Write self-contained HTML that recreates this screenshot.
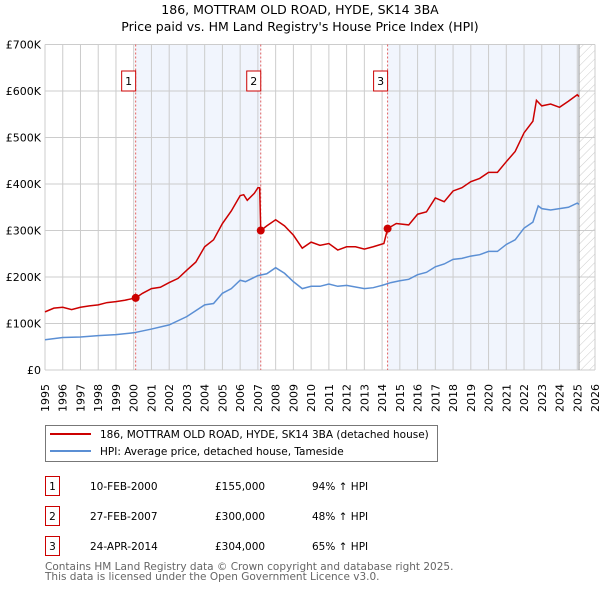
<!DOCTYPE html>
<html><head><meta charset="utf-8"><style>
body{margin:0;background:#fff;font-family:"Liberation Sans","DejaVu Sans",sans-serif;}
svg text{font-family:"DejaVu Sans","Liberation Sans",sans-serif;}
</style></head><body>
<svg id="c" width="600" height="590" xmlns="http://www.w3.org/2000/svg">
<defs><pattern id="h" patternUnits="userSpaceOnUse" width="6" height="6" patternTransform="rotate(45)"><line x1="0" y1="0" x2="0" y2="6" stroke="#ccc" stroke-width="1"/></pattern></defs>
<text x="300" y="14" text-anchor="middle" font-size="12.5">186, MOTTRAM OLD ROAD, HYDE, SK14 3BA</text>
<text x="300" y="31" text-anchor="middle" font-size="12.5">Price paid vs. HM Land Registry's House Price Index (HPI)</text>
<g id="plot"></g>
<g>
<rect x="45.5" y="425.5" width="392" height="36" fill="#fff" stroke="#777"/>
<line x1="50" y1="434" x2="91" y2="434" stroke="#cc0000" stroke-width="2"/>
<text x="100" y="438" font-size="10.5">186, MOTTRAM OLD ROAD, HYDE, SK14 3BA (detached house)</text>
<line x1="50" y1="451" x2="91" y2="451" stroke="#5b8fd4" stroke-width="2"/>
<text x="100" y="455" font-size="10.5">HPI: Average price, detached house, Tameside</text>
</g>
<g id="tbl" font-size="10.5"></g>
<text x="45" y="570" font-size="10.5" fill="#666">Contains HM Land Registry data © Crown copyright and database right 2025.</text>
<text x="45" y="580" font-size="10.5" fill="#666">This data is licensed under the Open Government Licence v3.0.</text>
</svg>
<script>
const yTicks=[0,100,200,300,400,500,600,700];
const yTickLabels=["£0","£100K","£200K","£300K","£400K","£500K","£600K","£700K"];
const years=[1995,1996,1997,1998,1999,2000,2001,2002,2003,2004,2005,2006,2007,2008,2009,2010,2011,2012,2013,2014,2015,2016,2017,2018,2019,2020,2021,2022,2023,2024,2025,2026];
const redT=[1995,1995.5,1996,1996.5,1997,1997.5,1998,1998.5,1999,1999.5,2000.11,2000.5,2001,2001.5,2002,2002.5,2003,2003.5,2004,2004.5,2005,2005.5,2006,2006.2,2006.4,2006.8,2007,2007.1,2007.16,2007.5,2008,2008.5,2009,2009.5,2010,2010.5,2011,2011.5,2012,2012.5,2013,2013.5,2014.1,2014.31,2014.8,2015.5,2016,2016.5,2017,2017.5,2018,2018.5,2019,2019.5,2020,2020.5,2021,2021.5,2022,2022.5,2022.7,2023,2023.5,2024,2024.5,2025,2025.1];
const redV=[125,133,135,130,135,138,140,145,147,150,155,165,175,178,188,197,215,232,265,280,315,342,375,377,365,380,392,392,300,310,323,310,290,262,275,268,272,258,265,265,260,265,272,304,315,312,335,340,370,362,385,392,405,412,425,425,448,470,510,535,580,568,572,565,578,592,588];
const hpiT=[1995,1996,1997,1998,1999,2000,2001,2002,2003,2004,2004.5,2005,2005.5,2006,2006.3,2007,2007.5,2008,2008.5,2009,2009.5,2010,2010.5,2011,2011.5,2012,2013,2013.5,2014,2014.5,2015,2015.5,2016,2016.5,2017,2017.5,2018,2018.5,2019,2019.5,2020,2020.5,2021,2021.5,2022,2022.5,2022.8,2023,2023.5,2024,2024.5,2025,2025.1];
const hpiV=[65,70,71,74,76,80,88,97,115,140,143,165,175,193,190,203,207,220,208,190,175,180,180,185,180,182,175,177,182,188,192,195,205,210,222,228,238,240,245,248,255,255,270,280,305,318,353,347,344,347,350,359,356];
const saleT=[2000.11,2007.16,2014.31];
const saleV=[155,300,304];
const saleLabels=["1","2","3"];
const saleDates=["10-FEB-2000","27-FEB-2007","24-APR-2014"];
const salePrices=["£155,000","£300,000","£304,000"];
const saleHpi=["94% \u2191 HPI","48% \u2191 HPI","65% \u2191 HPI"];
const X0=45,X1=595,Y0=370,Y1=44.5;
const x=t=>X0+(t-1995)/31*(X1-X0);
const y=v=>Y0-v/700*(Y0-Y1);
const NS="http://www.w3.org/2000/svg";
const plot=document.getElementById('plot');
function mk(tag,at,par){const e=document.createElementNS(NS,tag);for(const k in at)e.setAttribute(k,at[k]);(par||plot).appendChild(e);return e;}
let e;
e=mk('rect',{x:x(saleT[0]),y:Y1,width:x(saleT[1])-x(saleT[0]),height:Y0-Y1,fill:'#eef3fc',opacity:0.8});


e=mk('rect',{x:x(saleT[2]),y:Y1,width:x(2025.1)-x(saleT[2]),height:Y0-Y1,fill:'#eef3fc',opacity:0.8});


e=mk('rect',{x:x(2025.1),y:Y1,width:X1-x(2025.1),height:Y0-Y1,fill:'url(#h)'});


years.forEach(t=>{e=mk('line',{x1:x(t),x2:x(t),y1:Y1,y2:Y0,stroke:'#ccc'});


e=mk('text',{transform:`translate(${x(t)+4},384) rotate(-90)`,'text-anchor':'end','font-size':11});e.textContent=t;

});
yTicks.forEach((v,i)=>{e=mk('line',{x1:X0,x2:X1,y1:y(v),y2:y(v),stroke:'#ccc'});


e=mk('text',{x:X0-4,y:y(v)+4,'text-anchor':'end','font-size':11});e.textContent=yTickLabels[i];

});
e=mk('line',{x1:x(2025.1),x2:x(2025.1),y1:Y1,y2:Y0,stroke:'#999'});


saleT.forEach((t,i)=>{e=mk('line',{x1:x(t),x2:x(t),y1:Y1,y2:Y0,stroke:'#e06060','stroke-dasharray':'2,2'});


e=mk('rect',{x:x(t)-14,y:71,width:14,height:20,fill:'#fff',stroke:'#cc0000'});


e=mk('text',{x:x(t)-7,y:85,'text-anchor':'middle','font-size':11});e.textContent=saleLabels[i];

});
e=mk('polyline',{points:hpiT.map((t,i)=>x(t)+','+y(hpiV[i])).join(' '),fill:'none',stroke:'#5b8fd4','stroke-width':1.5});


e=mk('polyline',{points:redT.map((t,i)=>x(t)+','+y(redV[i])).join(' '),fill:'none',stroke:'#cc0000','stroke-width':1.5});


saleT.forEach((t,i)=>{e=mk('circle',{cx:x(t),cy:y(saleV[i]),r:4,fill:'#cc0000'});

});
const tbl=document.getElementById('tbl');
saleT.forEach((t,i)=>{const yy=476+i*30;
e=mk('rect',{x:45.5,y:yy+0.5,width:14,height:19,fill:'#fff',stroke:'#cc0000'},tbl);


e=mk('text',{x:52.5,y:yy+14,'text-anchor':'middle'},tbl);e.textContent=saleLabels[i];


e=mk('text',{x:90,y:yy+14},tbl);e.textContent=saleDates[i];


e=mk('text',{x:215,y:yy+14},tbl);e.textContent=salePrices[i];


e=mk('text',{x:312,y:yy+14},tbl);e.textContent=saleHpi[i];

});
</script>
</body></html>
